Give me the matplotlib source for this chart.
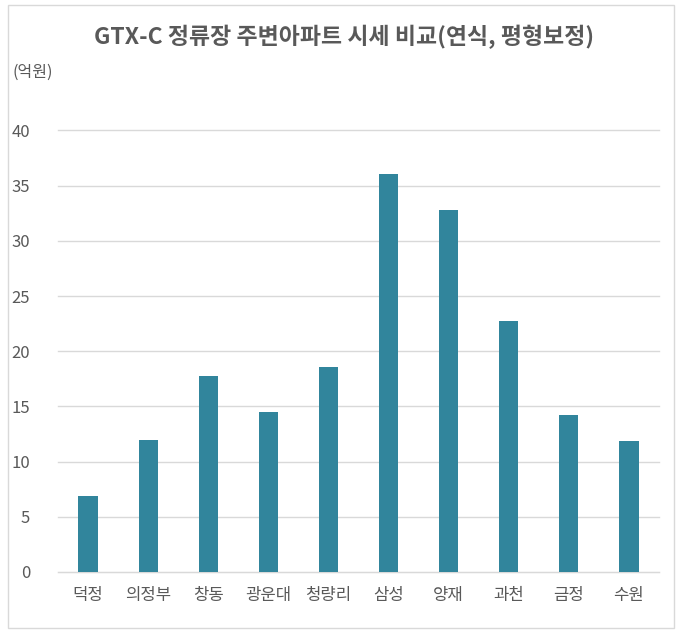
import matplotlib.pyplot as plt
from matplotlib.patches import Rectangle

plt.rcParams['font.family'] = ['Noto Sans CJK KR', 'DejaVu Sans']

# 역별 주변아파트 시세 (억원)
stations = ['덕정', '의정부', '창동', '광운대', '청량리', '삼성', '양재', '과천', '금정', '수원']
prices = [6.9, 12.0, 17.8, 14.5, 18.6, 36.1, 32.8, 22.7, 14.2, 11.9]
yticks = [0, 5, 10, 15, 20, 25, 30, 35, 40]

W, H = 689, 635
fig = plt.figure(figsize=(W / 100, H / 100), dpi=100)
ax = fig.add_axes([58 / W, 1 - 572 / H, 601 / W, 441.5 / H])

ax.bar(range(len(stations)), prices, width=0.32, color='#31859C', zorder=3)
ax.set_xlim(-0.5, len(stations) - 0.5)
ax.set_ylim(0, 40)
ax.set_yticks(yticks)
ax.set_xticks(range(len(stations)))
ax.set_xticklabels(stations)

ax.grid(axis='y', color='#D9D9D9', linewidth=1, zorder=0)
for line in ax.get_ygridlines():
    line.set_clip_on(False)
for s in ['top', 'right', 'left']:
    ax.spines[s].set_visible(False)
ax.spines['bottom'].set_color('#D9D9D9')
ax.tick_params(axis='both', length=0, colors='#595959', labelsize=12)
ax.tick_params(axis='y', pad=20)
ax.tick_params(axis='x', pad=11)

fig.text(0.5, 1 - 37 / H, 'GTX-C 정류장 주변아파트 시세 비교(연식, 평형보정)',
         ha='center', va='center', fontsize=16.5, fontweight='bold', color='#595959')
fig.text(12 / W, 1 - 72 / H, '(억원)', ha='left', va='center', fontsize=11.5, color='#595959')

fig.patches.append(Rectangle((8 / W, 1 - 628 / H), 666 / W, 623 / H,
                             transform=fig.transFigure, fill=False,
                             edgecolor='#D9D9D9', linewidth=1))

fig.savefig('out.png', dpi=100)
